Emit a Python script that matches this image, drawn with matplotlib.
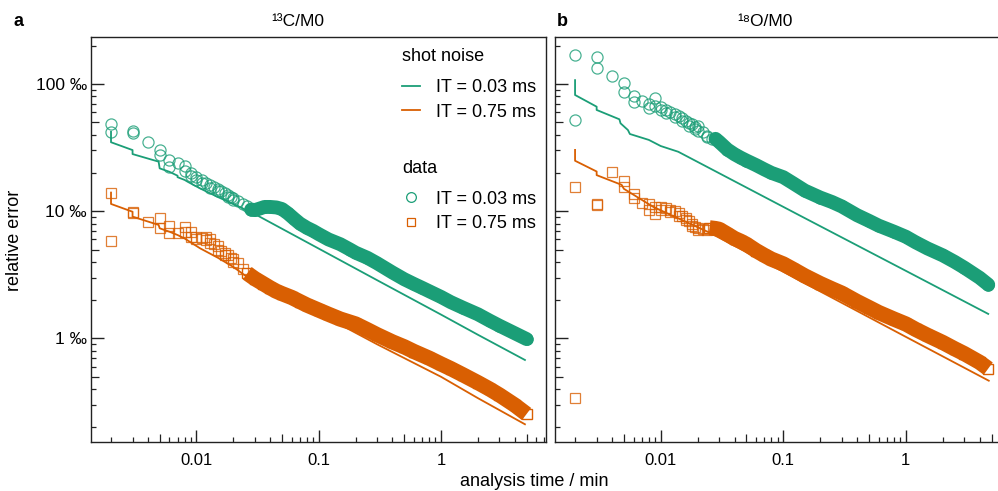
import numpy as np
import matplotlib
matplotlib.use('Agg')
import matplotlib.pyplot as plt
from matplotlib.lines import Line2D
from matplotlib.ticker import FixedLocator, NullFormatter, NullLocator

plt.rcParams['font.family'] = ['Liberation Sans', 'DejaVu Sans']

GREEN = '#1b9e77'
ORANGE = '#d95f02'

# ---------------- panel a : 13C/M0 ----------------
a_sn_g_t = [0.002, 0.002, 0.003, 0.003, 0.0049, 0.005, 0.006, 0.007, 0.007, 0.008, 0.0085, 0.0107, 0.015, 0.02, 0.031, 0.1, 0.3, 1.0, 2.0, 4.85]
a_sn_g_v = [42.0, 34.8, 30.2, 28.1, 24.5, 21.7, 20.4, 19.0, 18.5, 17.6, 17.0, 15.1, 12.9, 11.4, 9.33, 5.08, 2.87, 1.54, 1.07, 0.678]
a_sn_o_t = [0.002, 0.002, 0.003, 0.003, 0.0049, 0.005, 0.006, 0.007, 0.008, 0.0107, 0.015, 0.02, 0.0257, 0.1, 0.3, 1.0, 2.0, 4.85]
a_sn_o_v = [14.0, 11.4, 9.9, 9.06, 7.8, 7.34, 6.9, 6.5, 6.1, 5.11, 4.3, 3.65, 3.06, 1.58, 0.90, 0.50, 0.34, 0.212]

a_sp_g_t = [0.002, 0.002, 0.003, 0.003, 0.004, 0.005, 0.005, 0.006, 0.006, 0.007, 0.008, 0.008,
            0.009, 0.009, 0.010, 0.010, 0.011, 0.011, 0.012, 0.013, 0.013, 0.014, 0.015, 0.015,
            0.016, 0.017, 0.018, 0.018, 0.019, 0.020, 0.020, 0.022, 0.024, 0.026]
a_sp_g_v = [48.4, 42.1, 42.5, 41.5, 35.2, 30.2, 27.6, 25.2, 22.4, 23.8, 22.8, 20.8,
            19.8, 19.0, 18.5, 17.5, 17.6, 16.8, 16.8, 16.0, 15.3, 15.6, 15.0, 14.5,
            14.3, 14.0, 13.5, 13.0, 13.0, 12.6, 12.2, 12.0, 11.3, 10.9]
a_dn_g_t = [0.028, 0.030, 0.033, 0.036, 0.040, 0.045, 0.050, 0.056, 0.063, 0.070, 0.080, 0.090, 0.100,
            0.12, 0.15, 0.18, 0.20, 0.25, 0.30, 0.40, 0.50, 0.60, 0.70, 0.80, 1.0, 1.2, 1.5, 2.0,
            2.5, 3.0, 4.0, 5.0]
a_dn_g_v = [10.3, 10.2, 10.5, 10.8, 10.8, 10.7, 10.4, 9.6, 8.7, 8.0, 7.4, 7.0, 6.6,
            6.0, 5.5, 5.0, 4.72, 4.3, 3.9, 3.3, 2.92, 2.68, 2.5, 2.35, 2.12, 1.93, 1.75, 1.55,
            1.38, 1.26, 1.10, 0.99]

a_sp_o_t = [0.002, 0.002, 0.003, 0.003, 0.004, 0.005, 0.005, 0.006, 0.006, 0.007, 0.008, 0.008,
            0.009, 0.009, 0.010, 0.010, 0.011, 0.012, 0.012, 0.013, 0.013, 0.014, 0.015, 0.015,
            0.016, 0.017, 0.017, 0.018, 0.019, 0.020, 0.020, 0.022, 0.024]
a_sp_o_v = [14.0, 5.83, 9.9, 9.6, 8.27, 8.8, 7.34, 7.65, 6.78, 6.7, 7.55, 6.9,
            6.9, 6.3, 6.3, 6.0, 6.2, 6.3, 5.9, 6.0, 5.6, 5.5, 5.3, 5.0,
            4.9, 4.7, 4.5, 4.5, 4.3, 4.2, 4.0, 3.9, 3.5]
a_dn_o_t = [0.026, 0.030, 0.035, 0.040, 0.045, 0.050, 0.060, 0.070, 0.080, 0.100, 0.12, 0.15, 0.20,
            0.25, 0.30, 0.40, 0.50, 0.60, 0.80, 1.0, 1.2, 1.5, 2.0, 2.5, 3.0, 4.0, 5.0]
a_dn_o_v = [3.25, 2.95, 2.7, 2.5, 2.35, 2.25, 2.1, 1.95, 1.83, 1.67, 1.55, 1.42, 1.30,
            1.17, 1.07, 0.94, 0.86, 0.79, 0.70, 0.63, 0.58, 0.52, 0.45, 0.40, 0.36, 0.30, 0.255]

# ---------------- panel b : 18O/M0 ----------------
b_sn_g_t = [0.002, 0.002, 0.003, 0.003, 0.0046, 0.0047, 0.0054, 0.0056, 0.008, 0.010, 0.0139, 0.134, 1.0, 4.7]
b_sn_g_v = [107.0, 81.8, 66.2, 62.4, 52.7, 49.0, 43.4, 40.4, 36.3, 32.5, 29.3, 9.33, 3.40, 1.56]
b_sn_o_t = [0.002, 0.002, 0.003, 0.003, 0.0048, 0.005, 0.0087, 0.0253, 0.1, 1.0, 4.75]
b_sn_o_v = [30.3, 24.9, 20.5, 19.2, 16.1, 15.0, 10.8, 6.75, 3.34, 1.03, 0.466]

b_sp_g_t = [0.002, 0.002, 0.003, 0.003, 0.004, 0.005, 0.005, 0.006, 0.006, 0.007, 0.008, 0.008,
            0.009, 0.009, 0.010, 0.010, 0.011, 0.011, 0.012, 0.013, 0.013, 0.014, 0.015, 0.015,
            0.016, 0.017, 0.017, 0.018, 0.019, 0.019, 0.020, 0.020, 0.022, 0.024, 0.024, 0.026]
b_sp_g_v = [168.6, 52.0, 162.0, 132.5, 116.0, 101.0, 86.9, 80.4, 72.4, 73.8, 69.5, 64.3,
            78.0, 67.0, 66.0, 62.0, 62.0, 59.0, 60.0, 58.0, 55.0, 56.0, 54.0, 51.0,
            51.0, 49.0, 47.0, 48.0, 46.0, 44.0, 47.0, 43.0, 42.0, 39.0, 38.0, 37.0]
b_dn_g_t = [0.028, 0.030, 0.035, 0.040, 0.045, 0.050, 0.060, 0.070, 0.080, 0.10, 0.12, 0.15, 0.20,
            0.25, 0.30, 0.40, 0.50, 0.60, 0.80, 1.0, 1.2, 1.5, 2.0, 2.5, 3.0, 4.0, 4.7]
b_dn_g_v = [37.0, 35.0, 30.5, 28.0, 26.3, 25.0, 23.0, 21.3, 20.0, 18.5, 16.6, 14.5, 12.8,
            11.8, 10.9, 9.3, 8.4, 7.7, 6.9, 6.3, 5.7, 5.1, 4.5, 4.0, 3.6, 3.0, 2.65]

b_sp_o_t = [0.002, 0.002, 0.003, 0.003, 0.004, 0.005, 0.005, 0.006, 0.006, 0.007, 0.008, 0.008,
            0.009, 0.009, 0.010, 0.010, 0.011, 0.012, 0.012, 0.013, 0.014, 0.014, 0.015,
            0.016, 0.016, 0.017, 0.018, 0.018, 0.019, 0.020, 0.020, 0.022, 0.024]
b_sp_o_v = [15.6, 0.343, 11.4, 11.2, 20.4, 17.4, 15.4, 13.6, 12.8, 11.5, 11.4, 10.2,
            10.8, 9.5, 10.8, 10.3, 10.5, 10.3, 9.9, 10.0, 9.6, 9.2, 9.1,
            8.8, 8.5, 8.3, 7.9, 7.6, 7.5, 7.4, 7.1, 7.2, 7.1]
b_dn_o_t = [0.025, 0.028, 0.030, 0.035, 0.040, 0.045, 0.050, 0.060, 0.070, 0.080, 0.10, 0.12, 0.15,
            0.20, 0.25, 0.30, 0.40, 0.50, 0.60, 0.80, 1.0, 1.2, 1.5, 2.0, 2.5, 3.0, 4.0, 4.7]
b_dn_o_v = [7.4, 7.3, 7.2, 6.6, 6.1, 5.8, 5.5, 4.9, 4.5, 4.2, 3.85, 3.5, 3.1,
            2.7, 2.45, 2.27, 1.95, 1.75, 1.6, 1.42, 1.30, 1.18, 1.06, 0.93, 0.83, 0.76, 0.65, 0.58]

legend_labels = ['IT = 0.03 ms', 'IT = 0.75 ms']
x_major = [0.01, 0.1, 1]
x_major_labels = ['0.01', '0.1', '1']
y_major = [1, 10, 100]
y_major_labels = ['1 \u2030', '10 \u2030', '100 \u2030']

XLIM = (0.001372, 7.21)
YLIM = (0.1538, 233.5)

FW, FH = 998, 491
fig = plt.figure(figsize=(FW / 100, FH / 100), dpi=100)
axL = fig.add_axes([91 / FW, 49 / FH, 455 / FW, 405 / FH])
axR = fig.add_axes([555 / FW, 49 / FH, 456 / FW, 405 / FH])

MS_O = 8.0
MS_S = 7.0
MEW = 0.9
LW = 1.3


def style_axes(ax, ylabels=True):
    ax.set_xscale('log')
    ax.set_yscale('log')
    ax.set_xlim(*XLIM)
    ax.set_ylim(*YLIM)
    for s in ax.spines.values():
        s.set_color('#222222')
        s.set_linewidth(1.0)
    ax.xaxis.set_major_locator(FixedLocator(x_major))
    ax.set_xticklabels(x_major_labels)
    xminor = [m * 10.0 ** e for e in (-3, -2, -1, 0) for m in (2, 3, 4, 6, 7, 8, 9)]
    ax.xaxis.set_minor_locator(FixedLocator(xminor))
    ax.xaxis.set_minor_formatter(NullFormatter())
    ax.yaxis.set_major_locator(FixedLocator(y_major))
    if ylabels:
        ax.set_yticklabels(y_major_labels)
    else:
        ax.set_yticklabels([])
    yminor = [m * 10.0 ** e for e in (-1, 0, 1, 2) for m in (2, 3, 4, 6, 7, 8, 9)]
    ax.yaxis.set_minor_locator(FixedLocator(yminor))
    ax.yaxis.set_minor_formatter(NullFormatter())
    ax.tick_params(which='major', direction='in', length=9, width=1.0, color='#222222',
                   labelsize=12, top=False, right=False)
    ax.tick_params(axis='x', which='major', pad=8)
    ax.tick_params(axis='y', which='major', pad=3, labelsize=12.5)
    ax.tick_params(which='minor', direction='in', length=3.6, width=0.9, color='#222222',
                   top=False, right=False)
    # mid-decade ticks (x5), slightly longer
    sx = ax.secondary_xaxis('bottom')
    sx.set_xticks([0.005, 0.05, 0.5, 5])
    sx.xaxis.set_minor_locator(NullLocator())
    sx.tick_params(direction='in', length=6, width=0.9, color='#222222', labelbottom=False)
    sx.spines['bottom'].set_visible(False)
    sy = ax.secondary_yaxis('left')
    sy.set_yticks([0.5, 5, 50])
    sy.yaxis.set_minor_locator(NullLocator())
    sy.tick_params(direction='in', length=6, width=0.9, color='#222222', labelleft=False)
    sy.spines['left'].set_visible(False)


def draw_panel(ax, sn_g, sn_o, sp_g, sp_o, dn_g, dn_o):
    ax.plot(sn_g[0], sn_g[1], color=GREEN, lw=LW, zorder=3)
    ax.plot(sn_o[0], sn_o[1], color=ORANGE, lw=LW, zorder=3)
    # dense parts: overlapping markers -> solid band
    ax.plot(dn_g[0], dn_g[1], color=GREEN, lw=10, solid_capstyle='round',
            marker='o', ms=MS_O, mfc='none', mec=GREEN, zorder=4)
    ax.plot(dn_o[0], dn_o[1], color=ORANGE, lw=11, solid_capstyle='butt',
            marker='s', ms=MS_S, mfc='none', mec=ORANGE, zorder=4)
    # sparse early points
    ax.plot(sp_g[0], sp_g[1], ls='none', marker='o', ms=MS_O, mfc='none', mec=GREEN,
            mew=MEW, alpha=0.8, zorder=5)
    ax.plot(sp_o[0], sp_o[1], ls='none', marker='s', ms=MS_S, mfc='none', mec=ORANGE,
            mew=MEW, alpha=0.8, zorder=5)


style_axes(axL, True)
style_axes(axR, False)

draw_panel(axL, (a_sn_g_t, a_sn_g_v), (a_sn_o_t, a_sn_o_v), (a_sp_g_t, a_sp_g_v),
           (a_sp_o_t, a_sp_o_v), (a_dn_g_t, a_dn_g_v), (a_dn_o_t, a_dn_o_v))
draw_panel(axR, (b_sn_g_t, b_sn_g_v), (b_sn_o_t, b_sn_o_v), (b_sp_g_t, b_sp_g_v),
           (b_sp_o_t, b_sp_o_v), (b_dn_g_t, b_dn_g_v), (b_dn_o_t, b_dn_o_v))

# legends
LEG_FS = 13
h1 = [Line2D([], [], color=GREEN, lw=LW), Line2D([], [], color=ORANGE, lw=LW)]
leg1 = axL.legend(h1, legend_labels, title='shot noise', loc='upper left',
                  bbox_to_anchor=(0.684, 0.972), frameon=False, fontsize=LEG_FS,
                  title_fontsize=LEG_FS, handlelength=1.0, handletextpad=0.85,
                  labelspacing=0.42, borderpad=0, borderaxespad=0)
leg1._legend_box.align = 'left'
leg1._legend_box.sep = 10
axL.add_artist(leg1)
h2 = [Line2D([], [], ls='none', marker='o', ms=7, mfc='none', mec=GREEN, mew=MEW),
      Line2D([], [], ls='none', marker='s', ms=6, mfc='none', mec=ORANGE, mew=MEW)]
leg2 = axL.legend(h2, legend_labels, title='data', loc='upper left',
                  bbox_to_anchor=(0.684, 0.697), frameon=False, fontsize=LEG_FS,
                  title_fontsize=LEG_FS, handlelength=1.0, handletextpad=0.85,
                  labelspacing=0.42, borderpad=0, borderaxespad=0)
leg2._legend_box.align = 'left'
leg2._legend_box.sep = 10

# texts
fig.text(13 / FW, 1 - 22 / FH, 'a', fontsize=13, fontweight='bold', va='center', ha='left')
fig.text(557 / FW, 1 - 22 / FH, 'b', fontsize=13, fontweight='bold', va='center', ha='left')
fig.text(298 / FW, 1 - 22 / FH, '\u00b9\u00b3C/M0', fontsize=12.5, va='center', ha='center')
fig.text(765 / FW, 1 - 22 / FH, '\u00b9\u2078O/M0', fontsize=12.5, va='center', ha='center')
fig.text(15 / FW, 1 - 240 / FH, 'relative error', fontsize=13, rotation=90, va='center', ha='center')
fig.text(534 / FW, 1 - 481 / FH, 'analysis time / min', fontsize=13, va='center', ha='center')

fig.savefig('out.png', dpi=100)
